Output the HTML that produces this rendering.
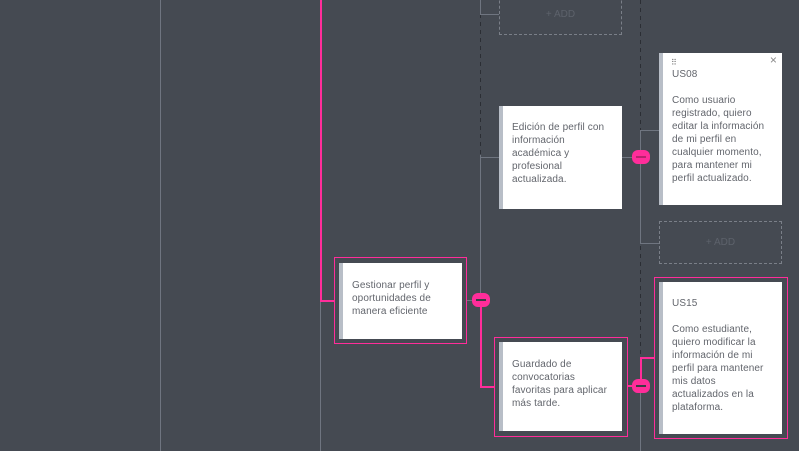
<!DOCTYPE html>
<html><head><meta charset="utf-8"><style>
html,body{margin:0;padding:0;background:#454a52;width:799px;height:451px;overflow:hidden;font-family:"Liberation Sans",sans-serif}
.c{position:absolute;background:#fff;border-left:4px solid #b8bec7;box-sizing:border-box;color:#62656c;font-size:10px;line-height:13px;padding-left:9px;padding-right:13px;letter-spacing:0.1px}
.add{position:absolute;border:1px dashed #7a7f88;box-sizing:border-box;color:#5d626b;font-size:10px;text-align:center}
.o{position:absolute;border:1px solid #ff2d9a;box-sizing:border-box}
</style></head><body>
<svg width="799" height="451" style="position:absolute;left:0;top:0">
<g fill="none" stroke-width="1">
<line x1="160.5" y1="0" x2="160.5" y2="451" stroke="#6f7580"/>
<line x1="320.5" y1="300" x2="320.5" y2="451" stroke="#6f7580"/>
<line x1="480.5" y1="0" x2="480.5" y2="14" stroke="#6f7580"/>
<line x1="480.5" y1="14" x2="480.5" y2="155" stroke="#2b2e34" stroke-dasharray="4,4"/>
<line x1="480.5" y1="155" x2="480.5" y2="300" stroke="#6f7580"/>
<line x1="480" y1="14.5" x2="499" y2="14.5" stroke="#6f7580"/>
<line x1="480" y1="157.5" x2="499" y2="157.5" stroke="#6f7580"/>
<line x1="622" y1="157.5" x2="640" y2="157.5" stroke="#6f7580"/>
<line x1="640.5" y1="0" x2="640.5" y2="130" stroke="#2b2e34" stroke-dasharray="4,4"/>
<line x1="640.5" y1="130" x2="640.5" y2="243" stroke="#6f7580"/>
<line x1="640" y1="130.5" x2="659" y2="130.5" stroke="#6f7580"/>
<line x1="640" y1="243.5" x2="659" y2="243.5" stroke="#6f7580"/>
<line x1="640.5" y1="246" x2="640.5" y2="358" stroke="#2b2e34" stroke-dasharray="4,4"/>
<line x1="640.5" y1="386" x2="640.5" y2="451" stroke="#6f7580"/>
<line x1="466" y1="300.5" x2="480" y2="300.5" stroke="#6f7580"/>
</g>
<g fill="none" stroke="#ff2d9a" stroke-width="2">
<line x1="321" y1="0" x2="321" y2="301"/>
<line x1="320" y1="301" x2="334" y2="301"/>
<line x1="481" y1="300" x2="481" y2="387"/>
<line x1="480" y1="387" x2="494" y2="387"/>
<line x1="627" y1="386" x2="640" y2="386"/>
<line x1="641" y1="358" x2="641" y2="386"/>
<line x1="640" y1="358" x2="654" y2="358"/>
</g>
<g fill="#ff2d9a"><rect x="472" y="293" width="18" height="14" rx="6"/><rect x="632" y="150" width="18" height="14" rx="6"/><rect x="632" y="379" width="18" height="14" rx="6"/></g>
<g stroke="#3a3d44" stroke-width="2"><line x1="476" y1="300" x2="486" y2="300"/><line x1="636" y1="386" x2="646" y2="386"/></g>
<line x1="636" y1="157" x2="646" y2="157" stroke="#a0205f" stroke-width="1.5"/>
</svg>
<div class="add" style="left:499px;top:-10px;width:123px;height:45px;line-height:48px">+ ADD</div>
<div class="c" style="left:499px;top:106px;width:123px;height:103px;padding-top:15px">Edición de perfil con información académica y profesional actualizada.</div>
<div class="c" style="left:659px;top:53px;width:123px;height:152px;padding-top:15px">
<span style="position:absolute;left:8px;top:3px;font-size:8px;color:#777">⠿</span><span style="position:absolute;right:5px;top:1px;font-size:12px;color:#888">×</span>
US08<br><br>Como usuario registrado, quiero editar la información de mi perfil en cualquier momento, para mantener mi perfil actualizado.</div>
<div class="add" style="left:659px;top:221px;width:123px;height:43px;line-height:42px">+ ADD</div>
<div class="o" style="left:334px;top:257px;width:133px;height:87px"></div>
<div class="c" style="left:339px;top:263px;width:123px;height:76px;padding-top:16px">Gestionar perfil y oportunidades de manera eficiente</div>
<div class="o" style="left:494px;top:337px;width:134px;height:100px"></div>
<div class="c" style="left:499px;top:342px;width:123px;height:89px;padding-top:16px">Guardado de convocatorias favoritas para aplicar más tarde.</div>
<div class="o" style="left:654px;top:277px;width:134px;height:162px"></div>
<div class="c" style="left:659px;top:282px;width:123px;height:152px;padding-top:15px">US15<br><br>Como estudiante, quiero modificar la información de mi perfil para mantener mis datos actualizados en la plataforma.</div>
</body></html>
